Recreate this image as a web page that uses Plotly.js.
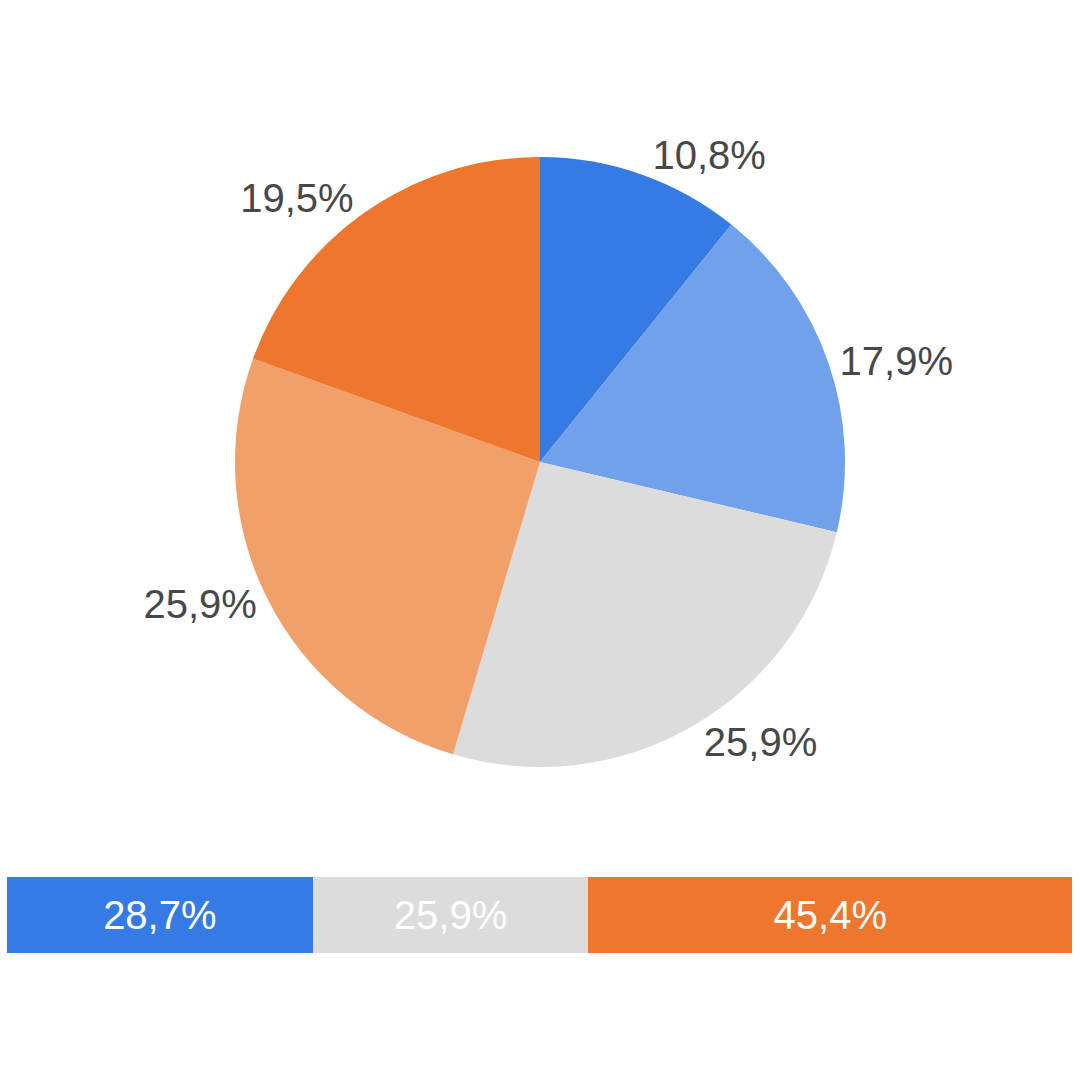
<!DOCTYPE html>
<html>
<head>
<meta charset="utf-8">
<script src="https://cdn.plot.ly/plotly-3.0.1.min.js"></script>
<style>html,body{margin:0;padding:0;background:#fff;}#chart{width:1080px;height:1080px;}</style>
</head>
<body>
<div id="chart"></div>
<script>
const pieLabels = ['A', 'B', 'C', 'D', 'E'];
const pieValues = [10.8, 17.9, 25.9, 25.9, 19.5];
const pieColors = ['#367BE3', '#70A1EA', '#DCDCDC', '#F2A069', '#EE762D'];

const barNames = ['Blue', 'Gray', 'Orange'];
const barValues = [28.7, 25.9, 45.4];
const barColors = ['#367BE3', '#DCDCDC', '#EE762D'];

const font = 'Liberation Sans, Arial, sans-serif';

const traces = [{
  type: 'pie',
  labels: pieLabels,
  values: pieValues,
  sort: false,
  direction: 'clockwise',
  rotation: 0,
  marker: {colors: pieColors, line: {width: 0}},
  textposition: 'outside',
  texttemplate: '%{percent:.1%}',
  outsidetextfont: {size: 40, color: '#484848', family: font},
  hoverinfo: 'skip',
  showlegend: false,
  domain: {x: [235/1080, 845/1080], y: [313/1080, 923/1080]}
}];

barNames.forEach((n, i) => {
  traces.push({
    type: 'bar',
    orientation: 'h',
    name: n,
    x: [barValues[i]],
    y: [0],
    width: 1,
    marker: {color: barColors[i], line: {width: 0}},
    text: [barValues[i].toFixed(1).replace('.', ',') + '%'],
    textposition: 'inside',
    insidetextanchor: 'middle',
    textfont: {size: 40, color: '#ffffff', family: font},
    hoverinfo: 'skip',
    showlegend: false,
    xaxis: 'x',
    yaxis: 'y'
  });
});

const layout = {
  width: 1080,
  height: 1080,
  margin: {l: 0, r: 0, t: 0, b: 0},
  paper_bgcolor: '#ffffff',
  plot_bgcolor: '#ffffff',
  separators: ',.',
  font: {family: font},
  barmode: 'stack',
  showlegend: false,
  xaxis: {domain: [7/1080, 1072/1080], range: [0, 100], visible: false, fixedrange: true},
  yaxis: {domain: [127/1080, 203/1080], range: [-0.5, 0.5], visible: false, fixedrange: true}
};

Plotly.newPlot('chart', traces, layout, {staticPlot: true});
</script>
</body>
</html>
